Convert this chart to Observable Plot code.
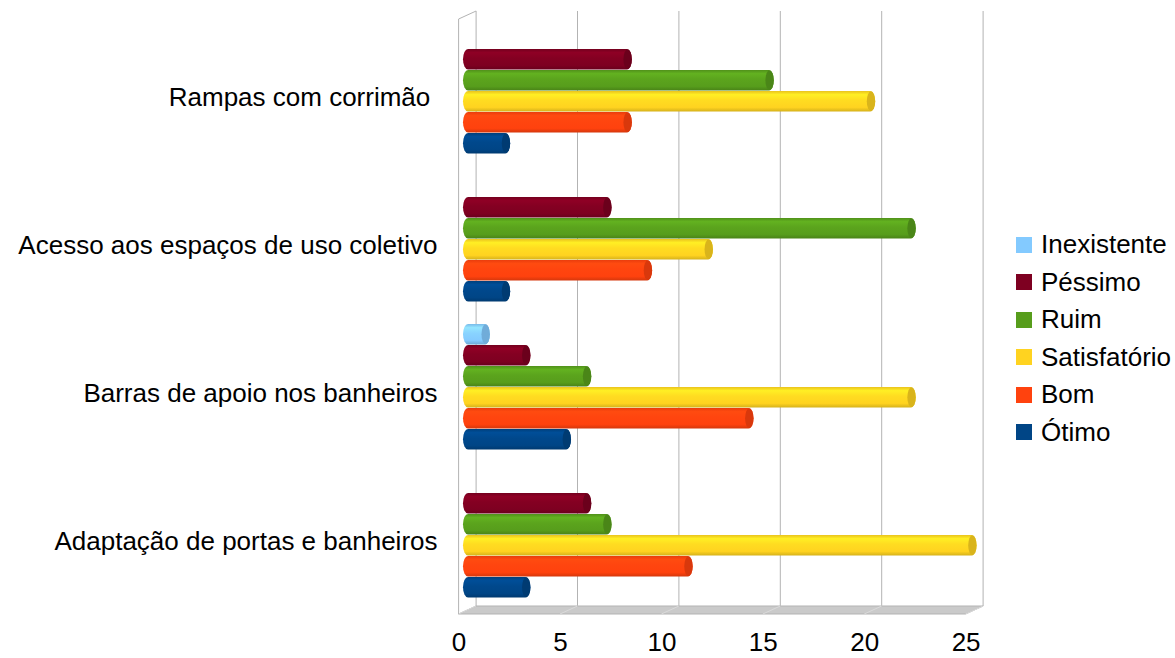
<!DOCTYPE html>
<html><head><meta charset="utf-8">
<script src="https://cdn.jsdelivr.net/npm/d3@7"></script>
<script src="https://cdn.jsdelivr.net/npm/@observablehq/plot@0.6"></script>
<style>
body{margin:0;background:#fff;font-family:"Liberation Sans",Arial,sans-serif;}
#wrap{position:relative;width:1175px;height:658px;overflow:hidden}
#legend{position:absolute;left:1016px;top:226px;}
.item{display:flex;align-items:center;height:37.5px;font-size:26px;color:#000;white-space:nowrap}
.sw{width:16px;height:16px;margin-right:9px;flex:none}
svg text{white-space:pre}
</style></head><body><div id="wrap"><div id="legend"></div></div>
<script>
// ---- data ----
const categories = ["Rampas com corrimão ", "Acesso aos espaços de uso coletivo", "Barras de apoio nos banheiros", "Adaptação de portas e banheiros"];
const series = ["Inexistente", "Péssimo", "Ruim", "Satisfatório", "Bom", "Ótimo"];
const colors = ["#83caff", "#7e0021", "#579d1c", "#ffd320", "#ff420e", "#004586"];
const inexistente  = [0, 0, 1, 0];
const pessimo      = [8, 7, 3, 6];
const ruim         = [15, 22, 6, 7];
const satisfatorio = [20, 12, 22, 25];
const bom          = [8, 9, 14, 11];
const otimo        = [2, 2, 5, 3];
const xTicks = [0, 5, 10, 15, 20, 25];

const valuesBySeries = [inexistente, pessimo, ruim, satisfatorio, bom, otimo];
const rows = [];
categories.forEach((c, i) => series.forEach((s, j) => {
  const v = valuesBySeries[j][i];
  if (v > 0) rows.push({category: c, series: s, value: v});
}));

const W = 1175, H = 658;
const mL = 458.6, mR = W - 965.6, mT = 25.3, mB = 57.7;

const chart = Plot.plot({
  width: W, height: H,
  marginLeft: mL, marginRight: mR, marginTop: mT, marginBottom: mB,
  style: {fontFamily: "'Liberation Sans', Arial, sans-serif", fontSize: "26px", color: "#000", background: "#fff"},
  x: {domain: [0, 25], ticks: xTicks, tickSize: 0, tickPadding: 33, label: null},
  y: {domain: series, axis: null, padding: 0},
  fy: {domain: categories, paddingInner: 0.1358, paddingOuter: 0, axis: "left", tickSize: 0, tickPadding: 21.6, label: null},
  color: {type: "ordinal", domain: series, range: series.map((s, i) => `url(#cyl${i})`)},
  facet: {data: rows, y: "category"},
  marks: [
    Plot.barX(rows, {x: "value", y: "series", fill: "series", rx: 5, ry: 10.7,
      dx: 4.4, insetRight: -6.6, insetTop: 0.2, insetBottom: 0.2})
  ]
});

const svg = d3.select(chart);
// gradients for cylinders
const defs = svg.insert("defs", ":first-child");
colors.forEach((c, i) => {
  const base = d3.color(c);
  const g = defs.append("linearGradient").attr("id", `cyl${i}`).attr("x1", 0).attr("y1", 0).attr("x2", 0).attr("y2", 1);
  [[0, base.darker(0.25)], [0.18, base.brighter(0.35)], [0.45, base.brighter(0.12)], [0.8, base], [1, base.darker(0.5)]]
    .forEach(([o, col]) => g.append("stop").attr("offset", o).attr("stop-color", col.formatHex()));
});

// 3D frame: back wall gridlines, left wall, floor
const x = chart.scale("x").apply;
const ddx = 17.5, ddy = -8;
const frontBottom = H - mB + 13.7, frontTop = 19;
const deco = svg.insert("g", "defs + *").attr("fill", "none");
deco.append("polygon")
  .attr("points", [[x(0), frontBottom], [x(0) + ddx, frontBottom + ddy], [x(25) + ddx, frontBottom + ddy], [x(25), frontBottom]].map(p => p.join(",")).join(" "))
  .attr("fill", "#cacaca").attr("stroke", "#b3b3b3");
xTicks.forEach(v => {
  deco.append("line").attr("x1", x(v) + ddx).attr("x2", x(v) + ddx)
    .attr("y1", frontTop + ddy).attr("y2", frontBottom + ddy).attr("stroke", "#b3b3b3");
  deco.append("line").attr("x1", x(v) + ddx).attr("x2", x(v))
    .attr("y1", frontBottom + ddy).attr("y2", frontBottom).attr("stroke", "#dadada");
});
deco.append("line").attr("x1", x(0)).attr("x2", x(0)).attr("y1", frontTop).attr("y2", frontBottom).attr("stroke", "#b3b3b3");
deco.append("line").attr("x1", x(0)).attr("x2", x(0) + ddx).attr("y1", frontTop).attr("y2", frontTop + ddy).attr("stroke", "#b3b3b3");

// cylinder end caps
svg.selectAll("g[aria-label='bar'] rect").each(function () {
  const r = d3.select(this);
  const m = /cyl(\d)/.exec(r.attr("fill"));
  const k = m ? +m[1] : 0;
  const xx = +r.attr("x"), w = +r.attr("width"), yy = +r.attr("y"), h = +r.attr("height");
  d3.select(this.parentNode).append("ellipse")
    .attr("cx", xx + w - 4.2).attr("cy", yy + h / 2).attr("rx", 4.2).attr("ry", h / 2 - 0.3)
    .attr("fill", d3.color(colors[k]).darker(0.45).formatHex());
});

// shift facet labels slightly down as in the reference
svg.selectAll("g[aria-label^='fy-axis']").each(function () {
  const t = this.getAttribute("transform") || "";
  this.setAttribute("transform", `translate(0,6.5) ${t}`);
});

document.getElementById("wrap").prepend(chart);
chart.style.position = "absolute"; chart.style.left = "0"; chart.style.top = "0";

// legend
const legend = d3.select("#legend");
series.forEach((s, i) => {
  const it = legend.append("div").attr("class", "item");
  it.append("div").attr("class", "sw").style("background", colors[i]);
  it.append("span").text(s);
});
</script>
</body></html>
